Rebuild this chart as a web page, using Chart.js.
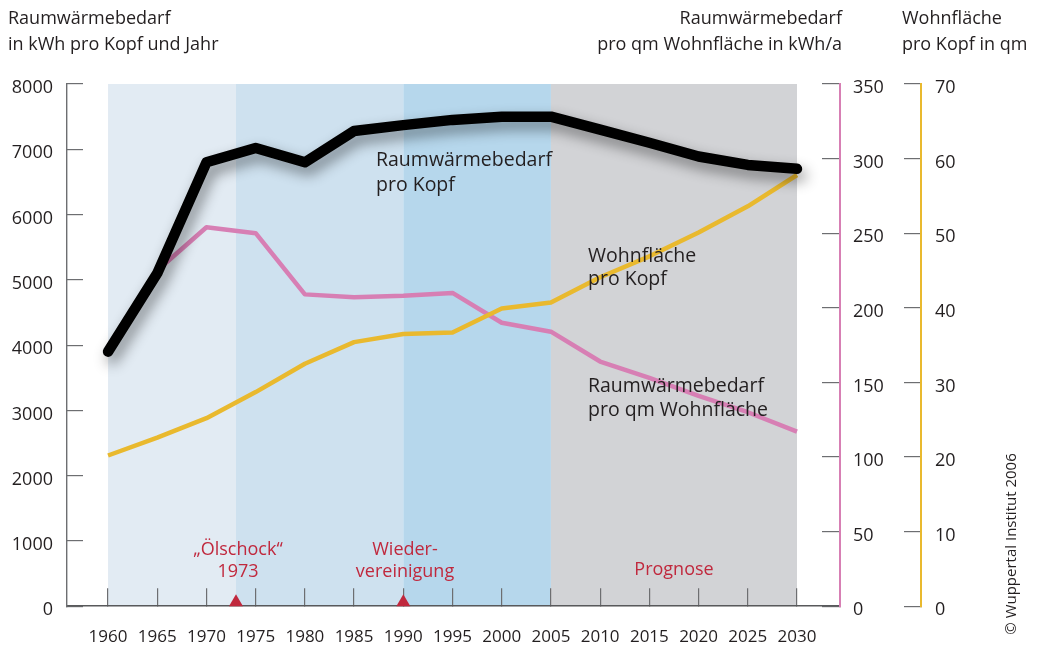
<!DOCTYPE html>
<html>
<head>
<meta charset="utf-8">
<style>
  html, body { margin: 0; padding: 0; background: #fff; }
  canvas { display: block; }
</style>
<script src="https://cdn.jsdelivr.net/npm/chart.js@4/dist/chart.umd.min.js"></script>
</head>
<body>
<canvas id="chart" width="1040" height="648"></canvas>
<script>
// Daten
const years = [1960, 1965, 1970, 1975, 1980, 1985, 1990, 1995, 2000, 2005, 2010, 2015, 2020, 2025, 2030];
const heatPerCapita = [3900, 5100, 6800, 7020, 6800, 7280, 7370, 7450, 7500, 7500, 7300, 7100, 6890, 6760, 6700];
const heatPerSqm = [null, 225, 254, 250, 209, 207, 208, 210, 190, 184, 164, 153, 141, 130, 117];
const livingSpace = [20.2, 22.6, 25.2, 28.7, 32.5, 35.4, 36.5, 36.7, 39.9, 40.7, 44.1, 46.9, 50.1, 53.6, 57.8];

const xTicks = [1960, 1965, 1970, 1975, 1980, 1985, 1990, 1995, 2000, 2005, 2010, 2015, 2020, 2025, 2030];
const leftTicks = [0, 1000, 2000, 3000, 4000, 5000, 6000, 7000, 8000];
const pinkTicks = [0, 50, 100, 150, 200, 250, 300, 350];
const yellowTicks = [0, 10, 20, 30, 40, 50, 60, 70];

// Zeitabschnitte (Hintergrund)
const periodEdges = [1960, 1973, 1990, 2005, 2030];
const periodColors = ['#e2ebf3', '#cee1ef', '#b6d7ec', '#d2d3d6'];
const eventYears = [1973, 1990];

const COLORS = {
  black: '#000000',
  pink: '#d77fb4',
  yellow: '#e9b92e',
  axis: '#6d6e71',
  text: '#231f20',
  red: '#c0283d'
};
const FONT = '"Open Sans", "Noto Sans", sans-serif';

const toPoints = vals => years.map((yr, i) => ({ x: yr, y: vals[i] }));

// Hintergrundflächen
const bandsPlugin = {
  id: 'bands',
  beforeDraw(chart) {
    const { ctx, chartArea, scales } = chart;
    ctx.save();
    for (let i = 0; i < periodColors.length; i++) {
      const x1 = scales.x.getPixelForValue(periodEdges[i]);
      const x2 = scales.x.getPixelForValue(periodEdges[i + 1]);
      ctx.fillStyle = periodColors[i];
      ctx.fillRect(x1, chartArea.top, x2 - x1, chartArea.bottom - chartArea.top);
    }
    ctx.restore();
  }
};

// Schatten für die schwarze Linie
const shadowPlugin = {
  id: 'shadow',
  beforeDatasetDraw(chart, args) {
    if (args.index !== 0) return;
    const ctx = chart.ctx;
    ctx.save();
    ctx.shadowColor = 'rgba(0,0,0,0.45)';
    ctx.shadowBlur = 14;
    ctx.shadowOffsetX = 4;
    ctx.shadowOffsetY = 7;
  },
  afterDatasetDraw(chart, args) {
    if (args.index !== 0) return;
    chart.ctx.restore();
  }
};

// Texte, Dreiecke
const textPlugin = {
  id: 'texts',
  afterDatasetsDraw(chart) {
    const { ctx, scales, chartArea } = chart;
    ctx.save();

    // rote Dreiecke
    ctx.fillStyle = COLORS.red;
    eventYears.forEach(yr => {
      const x = scales.x.getPixelForValue(yr);
      const y = chartArea.bottom;
      ctx.beginPath();
      ctx.moveTo(x - 7, y);
      ctx.lineTo(x + 7, y);
      ctx.lineTo(x, y - 12);
      ctx.closePath();
      ctx.fill();
    });

    ctx.textBaseline = 'middle';

    // Achsentitel
    ctx.fillStyle = COLORS.text;
    ctx.font = '18px ' + FONT;
    ctx.textAlign = 'left';
    ctx.fillText('Raumwärmebedarf', 8, 19);
    ctx.fillText('in kWh pro Kopf und Jahr', 8, 45);
    ctx.textAlign = 'right';
    ctx.fillText('Raumwärmebedarf', 842, 19);
    ctx.fillText('pro qm Wohnfläche in kWh/a', 842, 45);
    ctx.textAlign = 'left';
    ctx.fillText('Wohnfläche', 902, 19);
    ctx.fillText('pro Kopf in qm', 902, 45);

    // Beschriftungen im Diagramm
    ctx.font = '19.5px ' + FONT;
    ctx.fillText('Raumwärmebedarf', 376, 160);
    ctx.fillText('pro Kopf', 376, 185);
    ctx.fillText('Wohnfläche', 588, 256);
    ctx.fillText('pro Kopf', 588, 279);
    ctx.fillText('Raumwärmebedarf', 588, 386);
    ctx.fillText('pro qm Wohnfläche', 588, 410);

    // rote Ereignisse
    ctx.font = '18px ' + FONT;
    ctx.fillStyle = COLORS.red;
    ctx.textAlign = 'center';
    ctx.fillText('\u201EÖlschock\u201C', 238, 550);
    ctx.fillText('1973', 238, 572);
    ctx.fillText('Wieder-', 405, 550);
    ctx.fillText('vereinigung', 405, 572);
    ctx.fillText('Prognose', 674, 570);

    // Copyright
    ctx.fillStyle = COLORS.text;
    ctx.font = '15px ' + FONT;
    ctx.translate(1012, 544);
    ctx.rotate(-Math.PI / 2);
    ctx.textAlign = 'center';
    ctx.fillText('© Wuppertal Institut 2006', 0, 0);

    ctx.restore();
  }
};

const setTicks = list => scale => { scale.ticks = list.map(v => ({ value: v })); };
const tickFont = { family: FONT, size: 18 };

new Chart(document.getElementById('chart'), {
  type: 'line',
  data: {
    datasets: [
      {
        label: 'Raumwärmebedarf pro Kopf',
        data: toPoints(heatPerCapita),
        yAxisID: 'y',
        borderColor: COLORS.black,
        borderWidth: 10.5,
        borderJoinStyle: 'round',
        borderCapStyle: 'round',
        pointRadius: 0,
        tension: 0
      },
      {
        label: 'Wohnfläche pro Kopf',
        data: toPoints(livingSpace),
        yAxisID: 'y2',
        borderColor: COLORS.yellow,
        borderWidth: 4.5,
        borderJoinStyle: 'round',
        pointRadius: 0,
        tension: 0
      },
      {
        label: 'Raumwärmebedarf pro qm Wohnfläche',
        data: toPoints(heatPerSqm),
        yAxisID: 'y1',
        borderColor: COLORS.pink,
        borderWidth: 4.5,
        borderJoinStyle: 'round',
        pointRadius: 0,
        tension: 0
      }
    ]
  },
  options: {
    responsive: false,
    animation: false,
    events: [],
    layout: { padding: { left: 0, top: 84, right: 0, bottom: 0 } },
    plugins: {
      legend: { display: false },
      tooltip: { enabled: false }
    },
    scales: {
      x: {
        type: 'linear',
        position: 'bottom',
        min: 1955.83,
        max: 2034.37,
        afterBuildTicks: setTicks(xTicks),
        afterFit: s => { s.height = 40; },
        grid: { drawOnChartArea: false, tickLength: -18, color: COLORS.axis, lineWidth: 1.2 },
        border: { color: '#58595b', width: 1.6 },
        ticks: {
          padding: 39,
          maxRotation: 0,
          autoSkip: false,
          color: COLORS.text,
          font: { family: FONT, size: 17 },
          callback: v => String(v)
        }
      },
      y: {
        position: 'left',
        min: 0,
        max: 8000,
        afterBuildTicks: setTicks(leftTicks),
        afterFit: s => { s.width = 67; },
        grid: { drawOnChartArea: false, tickLength: -16, color: COLORS.axis, lineWidth: 1.2 },
        border: { color: COLORS.axis, width: 1.4 },
        ticks: { padding: 30, labelOffset: 4, color: COLORS.text, font: tickFont, callback: v => String(v) }
      },
      y1: {
        position: 'right',
        min: 0,
        max: 350,
        afterBuildTicks: setTicks(pinkTicks),
        afterFit: s => { s.width = 81; },
        grid: { drawOnChartArea: false, tickLength: -18, color: COLORS.axis, lineWidth: 1.2 },
        border: { color: COLORS.pink, width: 2 },
        ticks: { padding: 31, labelOffset: 4, color: COLORS.text, font: tickFont, callback: v => String(v) }
      },
      y2: {
        position: 'right',
        min: 0,
        max: 70,
        afterBuildTicks: setTicks(yellowTicks),
        afterFit: s => { s.width = 119; },
        grid: { drawOnChartArea: false, tickLength: -17, color: COLORS.axis, lineWidth: 1.2 },
        border: { color: COLORS.yellow, width: 2 },
        ticks: { padding: 31, labelOffset: 4, color: COLORS.text, font: tickFont, callback: v => String(v) }
      }
    }
  },
  plugins: [bandsPlugin, shadowPlugin, textPlugin]
});
</script>
</body>
</html>
